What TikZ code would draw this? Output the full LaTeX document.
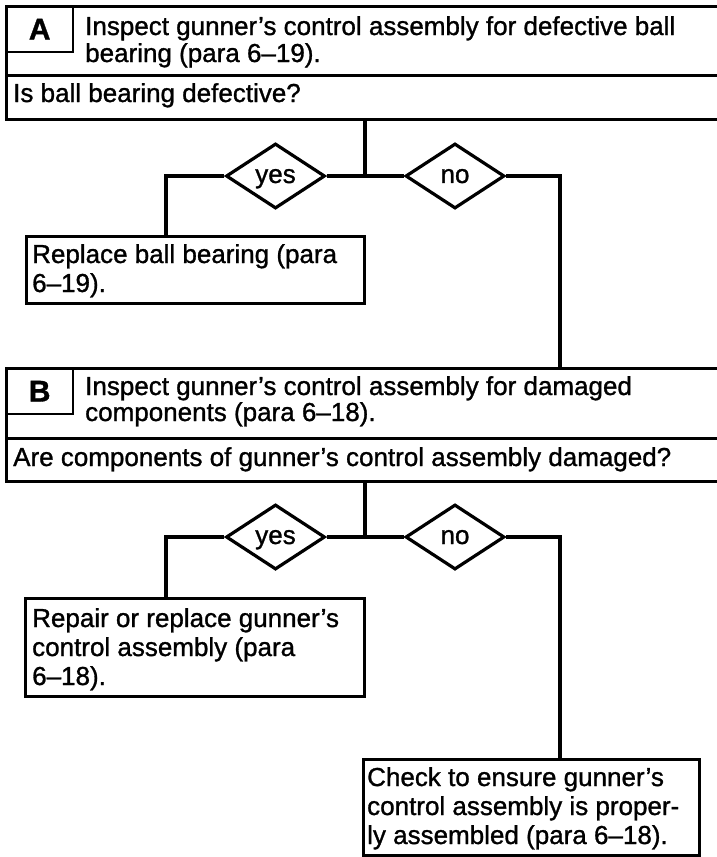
\documentclass[tikz,border=0pt]{standalone}
\usepackage{fontspec}
\setmainfont{Liberation Sans}[FakeBold=1.1]
\usetikzlibrary{shapes.geometric}
\begin{document}
\begin{tikzpicture}[x=1pt,y=-1pt,
  box/.style={draw, line width=3.2pt, rectangle, inner sep=0pt},
  labbox/.style={draw, line width=2.4pt, rectangle, inner sep=0pt, font=\fontsize{30}{30}\selectfont\bfseries},
  txt/.style={anchor=base west, inner sep=0pt, font=\fontsize{26}{29}\selectfont},
  dec/.style={draw, diamond, line width=3.2pt, minimum width=99pt, minimum height=65pt, inner sep=0pt, text depth=0pt, font=\fontsize{26}{29}\selectfont},
  wire/.style={line width=3.2pt}]
\useasboundingbox (0,0) rectangle (717,857);
\clip (0,0) rectangle (717,857);
\fill[white] (0,0) rectangle (717,857);

% ---- Block A ----
\node[box, minimum width=725pt, minimum height=69pt, anchor=north west] (hA) at (5,5) {};
\node[box, minimum width=725pt, minimum height=44pt, anchor=north west] (qA) at (5,74) {};
\node[labbox, minimum width=67pt, minimum height=46pt, anchor=north west] (labA) at (5,5) {A};
\node[txt] (tA1) at (85,35) {Inspect gunner’s control assembly for defective ball};
\node[txt] (tA2) at (85,62) {bearing (para 6–19).};
\node[txt] (qtA) at (13,102) {Is ball bearing defective?};

\node[dec] (yA) at (275.5,176) {yes};
\node[dec] (nA) at (455,176) {no};
\coordinate (jA) at (365,176);
\coordinate (lA) at (166,176);
\coordinate (rcA) at (560,176);

\node[box, minimum width=338pt, minimum height=67pt, anchor=north west] (rA) at (25,235) {};
\node[txt] (rA1) at (32,263) {Replace ball bearing (para};
\node[txt] (rA2) at (32,292) {6–19).};

% ---- Block B ----
\node[box, minimum width=725pt, minimum height=70pt, anchor=north west] (hB) at (5,367) {};
\node[box, minimum width=725pt, minimum height=43pt, anchor=north west] (qB) at (5,437) {};
\node[labbox, minimum width=67pt, minimum height=46pt, anchor=north west] (labB) at (5,367) {B};
\node[txt] (tB1) at (85,395) {Inspect gunner’s control assembly for damaged};
\node[txt] (tB2) at (85,421) {components (para 6–18).};
\node[txt] (qtB) at (13,466) {Are components of gunner’s control assembly damaged?};

\node[dec] (yB) at (275.5,537) {yes};
\node[dec] (nB) at (455,537) {no};
\coordinate (jB) at (365,537);
\coordinate (lB) at (166,537);
\coordinate (rcB) at (560,537);

\node[box, minimum width=339pt, minimum height=98pt, anchor=north west] (rpB) at (24,597) {};
\node[txt] (rp1) at (32,627) {Repair or replace gunner’s};
\node[txt] (rp2) at (32,656) {control assembly (para};
\node[txt] (rp3) at (32,685) {6–18).};

\node[box, minimum width=336pt, minimum height=96pt, anchor=north west] (ckB) at (362,758) {};
\node[txt] (ck1) at (367,786) {Check to ensure gunner’s};
\node[txt] (ck2) at (367,815) {control assembly is proper-};
\node[txt] (ck3) at (367,844) {ly assembled (para 6–18).};

% ---- connectors ----
\draw[wire] (qA.south -| jA) -- (jA);
\draw[wire] (yA.east) -- (jA) -- (nA.west);
\draw[wire] (yA.west) -- (lA) -- (lA |- rA.north);
\draw[wire] (nA.east) -- (rcA) -- (rcA |- hB.north);

\draw[wire] (qB.south -| jB) -- (jB);
\draw[wire] (yB.east) -- (jB) -- (nB.west);
\draw[wire] (yB.west) -- (lB) -- (lB |- rpB.north);
\draw[wire] (nB.east) -- (rcB) -- (rcB |- ckB.north);
\end{tikzpicture}
\end{document}
